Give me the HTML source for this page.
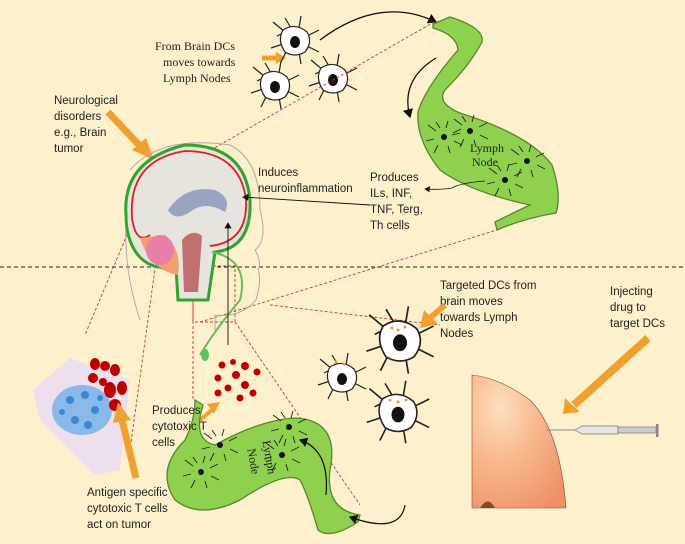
<!DOCTYPE html>
<html><head><meta charset="utf-8"><style>
html,body{margin:0;padding:0;background:#fff}
svg{display:block}
.s{font-family:"Liberation Sans",sans-serif;font-size:11.5px;fill:#222}
.t{font-family:"Liberation Serif",serif;font-size:12px;fill:#222}
</style></head><body>
<svg width="685" height="544" viewBox="0 0 685 544" xmlns="http://www.w3.org/2000/svg">
<defs>
<radialGradient id="sk" cx="0.3" cy="0.25" r="0.9">
<stop offset="0" stop-color="#fde0c0"/><stop offset="0.45" stop-color="#f9b88c"/><stop offset="1" stop-color="#ee9068"/></radialGradient>
<marker id="ah" markerWidth="8" markerHeight="8" refX="6" refY="4" orient="auto"><path d="M0,0 L7,4 L0,8z" fill="#111"/></marker>
<g id="dc"><path d="M-10,-8 L-22,-18 M-10,-8 L-18,-4 M-12,4 L-24,8 M-8,10 L-14,22 M4,12 L6,24 M12,6 L24,12 M12,-4 L24,-10 M4,-12 L6,-24 M-4,-12 L-10,-22" stroke="#222" stroke-width="1.2" fill="none"/><path d="M-12,-10 Q0,-18 12,-8 Q18,2 10,12 Q0,18 -10,12 Q-18,0 -12,-10z" fill="#fff" stroke="#222" stroke-width="1.2"/><ellipse cx="0" cy="2" rx="5" ry="6" fill="#111"/></g>
<g id="gdc"><path d="M-8,-6 L-16,-12 M-10,2 L-18,4 M-6,8 L-10,16 M4,9 L6,16 M10,4 L18,8 M9,-4 L17,-8 M2,-9 L4,-16 M-4,-9 L-8,-15" stroke="#222" stroke-width="0.9" fill="none"/><circle r="3" fill="#111"/></g>
</defs>
<rect width="685" height="544" fill="#fdf0cc"/>

<text class="t" x="155" y="50">From Brain DCs</text>
<text class="t" x="163" y="66">moves towards</text>
<text class="t" x="163" y="82">Lymph Nodes</text>
<path d="M262,58 L278,58" stroke="#f0a030" stroke-width="5"/><path d="M276,52 L286,58 L276,64z" fill="#f0a030"/>
<path d="M262,80 L278,80" stroke="#f0a030" stroke-width="5"/><path d="M276,74 L286,80 L276,86z" fill="#f0a030"/>
<use href="#dc" x="295" y="40"/><use href="#dc" x="275" y="85"/><use href="#dc" x="333" y="78"/>
<path d="M320,40 Q380,-5 436,22" stroke="#111" stroke-width="1.3" fill="none" marker-end="url(#ah)"/>
<path d="M436,58 Q400,80 410,117" stroke="#111" stroke-width="1.3" fill="none" marker-end="url(#ah)"/>

<text class="s" x="54" y="104">Neurological</text>
<text class="s" x="54" y="120">disorders</text>
<text class="s" x="54" y="136">e.g., Brain</text>
<text class="s" x="54" y="152">tumor</text>
<path d="M108,112 L140,146" stroke="#f0a030" stroke-width="7"/><path d="M132,150 L154,160 L146,138z" fill="#f0a030"/>

<!-- top lymph node -->
<path d="M433,24 L450,17 Q485,28 482,42 Q470,65 445,90 Q436,103 460,113 Q530,135 552,165 Q562,195 556,213 Q525,218 497,230 L495,222 Q515,212 530,205 Q470,192 440,170 Q416,140 418,112 Q425,88 458,50 Q457,35 433,28z" fill="#8fd14f" stroke="#4f8a2a" stroke-width="1.3"/>
<text class="t" x="470" y="152">Lymph</text><text class="t" x="472" y="166">Node</text>
<use href="#gdc" x="444" y="137"/><use href="#gdc" x="470" y="131"/><use href="#gdc" x="527" y="161"/><use href="#gdc" x="505" y="180"/>
<path d="M485,181 Q460,183 452,188 Q440,190 425,189" stroke="#111" stroke-width="0.8" fill="none" marker-end="url(#ah)"/>
<text class="s" x="370" y="181">Produces</text>
<text class="s" x="370" y="197">ILs, INF,</text>
<text class="s" x="370" y="213">TNF, Terg,</text>
<text class="s" x="370" y="229">Th cells</text>

<g stroke="#e03030" stroke-width="0.9" stroke-dasharray="3,2" fill="none">
<path d="M150,185 L434,22"/><path d="M200,322 L497,230"/>
<rect x="137" y="186" width="26" height="25"/><rect x="193" y="266" width="42" height="56"/>
<path d="M137,211 L85,335"/><path d="M163,211 L130,450"/>
<path d="M193,266 L193,400"/><path d="M235,322 L360,505"/><path d="M270,305 L440,325"/>
</g>
<path d="M0,267 L685,267" stroke="#222" stroke-width="1" stroke-dasharray="4,3"/>

<!-- head -->
<path d="M130,170 Q160,135 230,145 Q260,160 260,210 Q268,240 255,250 Q262,262 258,270 Q262,280 256,300 Q240,318 215,315 L215,330 M128,200 Q120,260 140,320" stroke="#aaa" stroke-width="1" fill="none"/>
<path d="M126,215 Q122,160 185,145 Q245,145 250,200 Q252,248 215,252 L208,300 L178,300 L176,268 Q150,270 138,255 Q126,240 126,215z" fill="#e6e4dc" stroke="#2fa52f" stroke-width="3"/>
<path d="M132,218 Q128,160 185,151 Q240,151 246,200 Q248,242 210,246 M132,218 Q136,245 150,235" stroke="#e02020" stroke-width="1.8" fill="none"/>
<path d="M140,238 Q150,270 178,275 Q182,250 165,235z" fill="#f2a070"/>
<ellipse cx="160" cy="250" rx="14" ry="15" fill="#e87fa8"/>
<path d="M182,240 Q192,228 202,236 L198,292 L184,292z" fill="#c07070"/>
<path d="M168,210 Q185,185 215,190 Q232,198 225,212 Q205,200 190,212 Q175,222 168,210z" fill="#9aa3c0"/>
<path d="M212,252 Q250,260 240,300 Q215,330 200,355" stroke="#5fc05f" stroke-width="2" fill="none"/>
<ellipse cx="205" cy="355" rx="4" ry="6" fill="#5fc05f"/>
<text class="s" x="258" y="176">Induces</text>
<text class="s" x="258" y="192">neuroinflammation</text>
<path d="M370,205 L243,197" stroke="#111" stroke-width="0.9" marker-end="url(#ah)"/>
<path d="M228,345 L228,223" stroke="#111" stroke-width="0.9" marker-end="url(#ah)"/>

<!-- tumor -->
<path d="M33,390 L70,358 L130,380 L120,470 L95,475 L40,420z" fill="#ece0ee"/>
<ellipse cx="82" cy="410" rx="30" ry="25" fill="#8ab8e8"/>
<g fill="#3a88d0"><circle cx="70" cy="400" r="4"/><circle cx="85" cy="395" r="4"/><circle cx="95" cy="410" r="4"/><circle cx="75" cy="420" r="4"/><circle cx="88" cy="425" r="4"/><circle cx="62" cy="412" r="3"/><circle cx="100" cy="398" r="3"/></g>
<g fill="#c00000"><ellipse cx="95" cy="364" rx="5" ry="6"/><ellipse cx="105" cy="366" rx="5" ry="5"/><ellipse cx="115" cy="370" rx="5" ry="6"/><ellipse cx="93" cy="378" rx="5" ry="5"/><ellipse cx="103" cy="382" rx="4" ry="4"/><ellipse cx="110" cy="390" rx="6" ry="8"/><ellipse cx="122" cy="388" rx="5" ry="7"/><ellipse cx="115" cy="405" rx="6" ry="6"/></g>
<path d="M136,478 L122,420" stroke="#f0a030" stroke-width="7"/><path d="M113,423 L118,402 L131,420z" fill="#f0a030"/>
<text class="s" x="87" y="496">Antigen specific</text>
<text class="s" x="87" y="512">cytotoxic T cells</text>
<text class="s" x="87" y="528">act on tumor</text>

<g fill="#c00000"><circle cx="222" cy="365" r="3.5"/><circle cx="233" cy="362" r="3"/><circle cx="245" cy="366" r="4"/><circle cx="218" cy="378" r="3.5"/><circle cx="236" cy="375" r="4"/><circle cx="257" cy="372" r="3.5"/><circle cx="228" cy="388" r="3.5"/><circle cx="245" cy="385" r="4"/><circle cx="218" cy="393" r="3.5"/><circle cx="240" cy="398" r="3.5"/><circle cx="253" cy="393" r="3.5"/></g>
<path d="M200,420 L212,410" stroke="#f0a030" stroke-width="4"/><path d="M207,404 L220,402 L214,414z" fill="#f0a030"/>

<!-- bottom lymph node -->
<path d="M195,400 L203,405 Q192,440 215,445 Q260,420 295,418 Q340,420 330,470 Q325,510 360,515 L358,522 Q330,540 318,530 Q308,495 300,480 Q285,470 240,500 Q200,520 175,500 Q155,470 185,440 Q195,420 195,400z" fill="#8fd14f" stroke="#4f8a2a" stroke-width="1.3"/>
<text class="s" x="152" y="414">Produces</text>
<text class="s" x="152" y="430">cytotoxic T</text>
<text class="s" x="152" y="446">cells</text>
<text class="t" x="255" y="440" transform="rotate(80 258 445)">Lymph</text>
<text class="t" x="240" y="448" transform="rotate(80 243 453)">Node</text>
<use href="#gdc" x="201" y="472"/><use href="#gdc" x="220" y="445"/><use href="#gdc" x="289" y="427"/><use href="#gdc" x="282" y="455"/>
<path d="M326,495 Q330,450 300,440" stroke="#111" stroke-width="1.2" fill="none" marker-end="url(#ah)"/>
<path d="M405,505 Q400,535 350,517" stroke="#111" stroke-width="1.2" fill="none" marker-end="url(#ah)"/>

<use href="#dc" x="342" y="377"/>
<g transform="translate(400,340) scale(1.4)"><use href="#dc"/></g>
<g transform="translate(398,412) scale(1.3)"><use href="#dc"/></g>
<g fill="#e6a030"><circle cx="392" cy="328" r="1.5"/><circle cx="398" cy="330" r="1.5"/><circle cx="405" cy="327" r="1.5"/><circle cx="336" cy="362" r="1.5"/><circle cx="344" cy="364" r="1.5"/><circle cx="390" cy="400" r="1.5"/><circle cx="398" cy="402" r="1.5"/><circle cx="406" cy="400" r="1.5"/></g>
<text class="s" x="440" y="289">Targeted DCs from</text>
<text class="s" x="440" y="305">brain moves</text>
<text class="s" x="440" y="321">towards Lymph</text>
<text class="s" x="440" y="337">Nodes</text>
<path d="M445,305 L430,318" stroke="#f0a030" stroke-width="6"/><path d="M424,310 L420,328 L438,324z" fill="#f0a030"/>

<text class="s" x="610" y="295">Injecting</text>
<text class="s" x="610" y="311">drug to</text>
<text class="s" x="610" y="327">target DCs</text>
<!-- skin -->
<path d="M472,375 Q500,378 530,400 Q560,430 566,508 L472,508z" fill="url(#sk)" stroke="#7a4a40" stroke-width="0.6"/>
<path d="M480,508 Q488,495 495,508z" fill="#8a4a20"/>
<path d="M648,338 L574,405" stroke="#f0a030" stroke-width="8"/><path d="M565,398 L563,414 L580,412z" fill="#f0a030"/>
<path d="M547,430 L575,430" stroke="#666" stroke-width="0.8"/>
<path d="M575,430 L582,426 L618,426 L618,434 L582,434z" fill="#e6e6e6" stroke="#777" stroke-width="0.7"/>
<rect x="618" y="427" width="38" height="6" fill="#ccc" stroke="#777" stroke-width="0.7"/>
<rect x="656" y="424" width="2.5" height="13" fill="#888"/>
</svg>
</body></html>
